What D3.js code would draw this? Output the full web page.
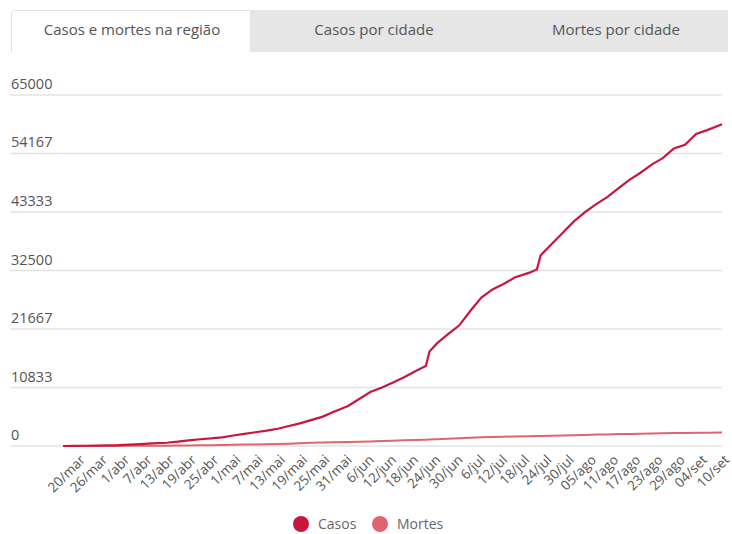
<!DOCTYPE html>
<html>
<head>
<meta charset="utf-8">
<script src="https://cdn.jsdelivr.net/npm/d3@7"></script>
<style>
  body { margin: 0; background: #fff; }
  svg { display: block; font-family: "Open Sans", sans-serif; }
</style>
</head>
<body>
<div id="chart"></div>
<script>
// abas do topo
const tabs = ["Casos e mortes na região", "Casos por cidade", "Mortes por cidade"];

// datas das leituras (2020)
const datas = [
    "03-16", "03-19", "03-22", "03-25", "03-28", "03-31", "04-03", "04-06", "04-09", "04-13",
    "04-16", "04-19", "04-22", "04-25", "04-28", "05-01", "05-04", "05-07", "05-10", "05-13",
    "05-16", "05-19", "05-22", "05-25", "05-28", "06-01", "06-04", "06-07", "06-10", "06-13",
    "06-16", "06-19", "06-22", "06-23", "06-25", "06-28", "07-01", "07-04", "07-07", "07-10",
    "07-13", "07-16", "07-20", "07-22", "07-23", "07-26", "07-29", "08-01", "08-04", "08-07",
    "08-10", "08-13", "08-16", "08-19", "08-22", "08-25", "08-28", "08-31", "09-03", "09-06",
    "09-10"
];

const casos = [
    0, 20, 50, 80, 110, 150, 250, 350, 470, 600,
    800, 1050, 1250, 1400, 1600, 1950, 2250, 2550, 2850, 3200,
    3700, 4200, 4800, 5400, 6300, 7400, 8700, 10000, 10800, 11700,
    12700, 13800, 14800, 17500, 19000, 20700, 22300, 25000, 27500, 29000,
    30000, 31200, 32100, 32700, 35300, 37400, 39500, 41600, 43300, 44800,
    46100, 47700, 49300, 50600, 52100, 53300, 55100, 55800, 57800, 58500,
    59600
];

const mortes = [
    0, 2, 5, 10, 15, 22, 30, 40, 52, 66,
    85, 105, 130, 160, 195, 230, 265, 300, 335, 370,
    430, 500, 580, 660, 700, 740, 790, 850, 920, 990,
    1060, 1120, 1180, 1200, 1240, 1320, 1440, 1540, 1610, 1670,
    1710, 1760, 1800, 1830, 1840, 1890, 1950, 2010, 2050, 2110,
    2150, 2200, 2240, 2280, 2320, 2370, 2410, 2430, 2450, 2470,
    2490
];

// rótulos do eixo x (a cada 6 dias, a partir de 20/mar)
const rotulosX = [
    "20/mar", "26/mar", "1/abr", "7/abr", "13/abr", "19/abr", "25/abr", "1/mai", "7/mai", "13/mai",
    "19/mai", "25/mai", "31/mai", "6/jun", "12/jun", "18/jun", "24/jun", "30/jun", "6/jul", "12/jul",
    "18/jul", "24/jul", "30/jul", "05/ago", "11/ago", "17/ago", "23/ago", "29/ago", "04/set", "10/set"
];

const ticksY = [0, 10833, 21667, 32500, 43333, 54167, 65000];

const cores = { casos: "#c8173f", mortes: "#e0646f" };

const width = 732, height = 534;
const parse = d3.timeParse("%Y-%m-%d");
const dias = datas.map(d => parse("2020-" + d));
const inicio = parse("2020-03-20");
const ticksX = rotulosX.map((r, i) => d3.timeDay.offset(inicio, i * 6));

const svg = d3.select("#chart")
    .append("svg")
    .attr("width", width)
    .attr("height", height);

// --- abas
const tabBar = svg.append("g");
tabBar.append("rect")
    .attr("x", 250).attr("y", 10)
    .attr("width", 478).attr("height", 42)
    .attr("fill", "#e6e6e6");
tabBar.append("path")
    .attr("d", "M11.5,52 V13 Q11.5,10.5 14,10.5 H250")
    .attr("fill", "#fff")
    .attr("stroke", "#e2e2e2");
tabBar.selectAll("text")
    .data(tabs)
    .enter().append("text")
    .attr("x", (d, i) => [132, 374, 616][i])
    .attr("y", 35)
    .attr("text-anchor", "middle")
    .attr("font-size", "15px")
    .attr("fill", "#555")
    .text(d => d);

// --- escalas
const x = d3.scaleTime()
    .domain([dias[0], dias[dias.length - 1]])
    .range([63, 722]);

const y = d3.scaleLinear()
    .domain([0, 65000])
    .range([446, 95]);

// grade + rótulos y
const grade = svg.append("g");
grade.selectAll("line")
    .data(ticksY)
    .enter().append("line")
    .attr("x1", 10).attr("x2", 722)
    .attr("y1", d => y(d)).attr("y2", d => y(d))
    .attr("stroke", "#e3e3e3")
    .attr("stroke-width", 1.6);
grade.selectAll("text")
    .data(ticksY)
    .enter().append("text")
    .attr("x", 11)
    .attr("y", d => y(d) - 6)
    .attr("font-size", "14.5px")
    .attr("fill", "#555")
    .text(d => d);

// eixo x
const eixoX = svg.append("g")
    .attr("transform", "translate(0,450)")
    .call(d3.axisBottom(x)
        .tickValues(ticksX)
        .tickFormat((d, i) => rotulosX[i])
        .tickSize(0));
eixoX.select(".domain").remove();
eixoX.selectAll("text")
    .attr("font-family", "Open Sans, sans-serif")
    .attr("font-size", "13.5px")
    .attr("fill", "#555")
    .attr("text-anchor", "end")
    .attr("dy", "0.9em")
    .attr("transform", "translate(-3,0) rotate(-45)");

// linhas
const linha = serie => d3.line()
    .x((d, i) => x(dias[i]))
    .y(d => y(d))(serie);

svg.append("path")
    .attr("d", linha(mortes))
    .attr("fill", "none")
    .attr("stroke", cores.mortes)
    .attr("stroke-width", 2);

svg.append("path")
    .attr("d", linha(casos))
    .attr("fill", "none")
    .attr("stroke", cores.casos)
    .attr("stroke-width", 2.2);

// legenda
const legenda = svg.append("g");
const itens = [
    { nome: "Casos", cor: cores.casos, cx: 301 },
    { nome: "Mortes", cor: cores.mortes, cx: 380 }
];
legenda.selectAll("circle")
    .data(itens)
    .enter().append("circle")
    .attr("cx", d => d.cx)
    .attr("cy", 524)
    .attr("r", 8)
    .attr("fill", d => d.cor);
legenda.selectAll("text")
    .data(itens)
    .enter().append("text")
    .attr("x", d => d.cx + 17)
    .attr("y", 529)
    .attr("font-size", "14px")
    .attr("fill", "#666")
    .text(d => d.nome);
</script>
</body>
</html>
